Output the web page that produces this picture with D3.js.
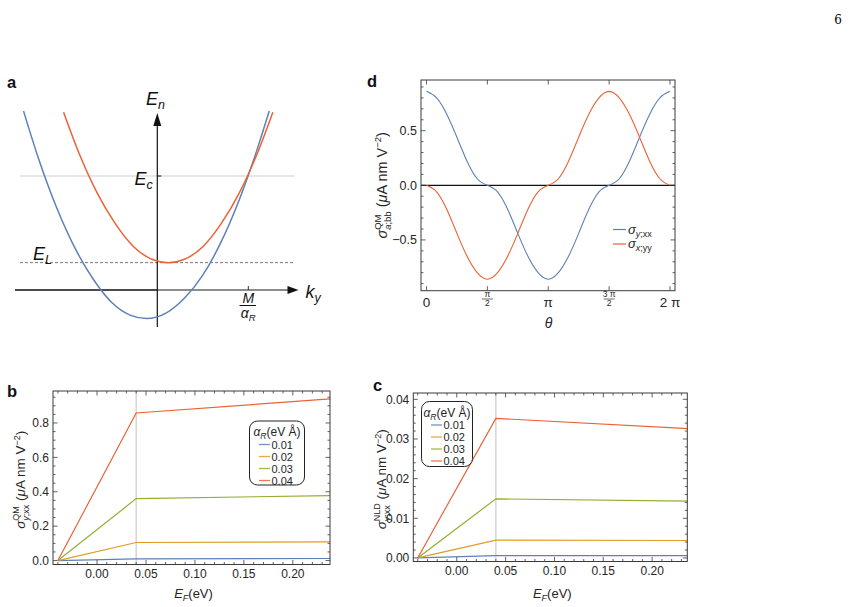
<!DOCTYPE html>
<html>
<head>
<meta charset="utf-8">
<script src="https://cdn.jsdelivr.net/npm/d3@7"></script>
<style>
  body { margin: 0; background: #fff; }
  svg { display: block; font-family: "Liberation Sans", Arial, sans-serif; }
</style>
</head>
<body>
<svg id="fig" width="857" height="607"></svg>
<script>
// ---------- data ----------
// panel a: the two bands (k in units of M/alpha_R, E in units of E_c)
const lowerK = [-1.47, -1.3, -1.1, -0.9, -0.7, -0.5, -0.3, -0.12, 0.1, 0.3, 0.5, 0.7, 0.9, 1.1, 1.23];
const lowerE = [1.57, 1.14, 0.71, 0.36, 0.09, -0.11, -0.22, -0.25, -0.20, -0.07, 0.13, 0.42, 0.79, 1.24, 1.57];
const upperK = [-1.03, -0.86, -0.66, -0.46, -0.26, -0.06, 0.12, 0.3, 0.5, 0.7, 0.9, 1.1, 1.27];
const upperE = [1.56, 1.20, 0.85, 0.58, 0.38, 0.27, 0.24, 0.27, 0.38, 0.58, 0.85, 1.20, 1.56];
const levelEc = 1, levelEL = 0.24, kCross = 1;

// panels b, c
const alphaR = ['0.01', '0.02', '0.03', '0.04'];
const seriesColors = ['#5e81b5', '#e19c24', '#8fb032', '#eb6235'];
const efPoints = [-0.04, 0.04, 0.238];
const sigmaQM = [[0, 0.010, 0.012], [0, 0.105, 0.108], [0, 0.360, 0.378], [0, 0.858, 0.940]];
const sigmaNLD = [[0, 0.0006, 0.0006], [0, 0.0045, 0.0044], [0, 0.0149, 0.0143], [0, 0.0352, 0.0326]];
const efCut = 0.04;
const efTicks = [0, 0.05, 0.1, 0.15, 0.2];
const qmTicks = [0, 0.2, 0.4, 0.6, 0.8];
const nldTicks = [0, 0.01, 0.02, 0.03, 0.04];

// panel d
const thetaDeg = [0, 15, 30, 45, 60, 75, 90, 105, 120, 135, 150, 165, 180,
                  195, 210, 225, 240, 255, 270, 285, 300, 315, 330, 345, 360];
const sigmaYxx = [0.86, 0.80, 0.65, 0.44, 0.22, 0.06, 0, -0.06, -0.22, -0.44, -0.65, -0.80, -0.86,
                  -0.80, -0.65, -0.44, -0.22, -0.06, 0, 0.06, 0.22, 0.44, 0.65, 0.80, 0.86];
const sigmaXyy = [0, -0.06, -0.22, -0.44, -0.65, -0.80, -0.86, -0.80, -0.65, -0.44, -0.22, -0.06, 0,
                  0.06, 0.22, 0.44, 0.65, 0.80, 0.86, 0.80, 0.65, 0.44, 0.22, 0.06, 0];
const thetaTicks = [0, 90, 180, 270, 360];
const thetaLabels = [['0'], ['π', '2'], ['π'], ['3 π', '2'], ['2 π']];
const angTicks = [-0.5, 0, 0.5];

const svg = d3.select('#fig');
const frameColor = '#3a3a3a', labelColor = '#262626';

// text with sub/superscripts; returns the text and its advance width
function rich(g, segs, size) {
  const t = g.append('text').attr('font-size', size).attr('fill', labelColor);
  let base = 0, adv = 0, pad = 0, markAdv = 0, supEnd = 0;
  segs.forEach(function(s) {
    const sp = t.append('tspan').text(s.t);
    if (s.sz) sp.attr('font-size', s.sz);
    if (s.it) sp.attr('font-style', 'italic');
    const off = s.up || 0;
    sp.attr('dy', base - off);
    base = off;
    let dx = pad; pad = 0;
    if (s.under) dx += markAdv - adv;
    if (s.mark) markAdv = adv + dx;
    if (dx) sp.attr('dx', dx);
    adv += dx + sp.node().getComputedTextLength();
    if (s.mark) supEnd = adv;
    if (s.close && supEnd > adv) pad = supEnd - adv;
  });
  return { t: t, w: adv + pad };
}

function richCentered(g, segs, size, cx, cy) {
  const r = rich(g, segs, size);
  r.t.attr('x', cx - r.w / 2).attr('y', cy);
  return r;
}

function letter(x, y, s) {
  svg.append('text').attr('x', x).attr('y', y).attr('font-size', 16.5)
    .attr('font-weight', 'bold').attr('fill', '#111').text(s);
}

// Mathematica style frame with ticks on all four sides
function frame(g, x, y, xMaj, xMin, yMaj, yMin) {
  const [l, r] = x.range(), [b, t] = y.range();
  const tk = g.append('g').attr('stroke', frameColor).attr('stroke-width', 0.8);
  function xt(v, len) {
    tk.append('line').attr('x1', x(v)).attr('x2', x(v)).attr('y1', b).attr('y2', b - len);
    tk.append('line').attr('x1', x(v)).attr('x2', x(v)).attr('y1', t).attr('y2', t + len);
  }
  function yt(v, len) {
    tk.append('line').attr('y1', y(v)).attr('y2', y(v)).attr('x1', l).attr('x2', l + len);
    tk.append('line').attr('y1', y(v)).attr('y2', y(v)).attr('x1', r).attr('x2', r - len);
  }
  xMaj.forEach(function(v) { xt(v, 4.5); });
  xMin.forEach(function(v) { xt(v, 2.5); });
  yMaj.forEach(function(v) { yt(v, 4.5); });
  yMin.forEach(function(v) { yt(v, 2.5); });
  g.append('rect').attr('x', l).attr('y', t).attr('width', r - l).attr('height', b - t)
    .attr('fill', 'none').attr('stroke', frameColor).attr('stroke-width', 1);
}

function minors(a, b, step, majors) {
  return d3.range(a, b + step / 2, step).filter(function(v) {
    return !majors.some(function(m) { return Math.abs(m - v) < step / 10; });
  });
}

svg.append('text').attr('x', 842).attr('y', 24).attr('text-anchor', 'end')
  .attr('font-family', '"DejaVu Serif", "Liberation Serif", serif').attr('font-size', 12)
  .text('6');

// ---------- panel a ----------
(function() {
  const g = svg.append('g');
  const kx = d3.scaleLinear().domain([0, 1]).range([157.3, 248.3]);
  const ey = d3.scaleLinear().domain([0, 1]).range([290, 176]);

  g.append('line').attr('x1', 20).attr('x2', 295).attr('y1', ey(levelEc)).attr('y2', ey(levelEc))
    .attr('stroke', '#cfcfcf').attr('stroke-width', 1.2);
  g.append('line').attr('x1', 20).attr('x2', 295).attr('y1', ey(levelEL)).attr('y2', ey(levelEL))
    .attr('stroke', '#777').attr('stroke-width', 1).attr('stroke-dasharray', '3,2');

  // axes
  g.append('line').attr('x1', kx(0)).attr('x2', 290).attr('y1', ey(0)).attr('y2', ey(0))
    .attr('stroke', '#666').attr('stroke-width', 1.3);
  g.append('line').attr('x1', 15).attr('x2', kx(0)).attr('y1', ey(0)).attr('y2', ey(0))
    .attr('stroke', '#111').attr('stroke-width', 1.4);
  g.append('path').attr('d', 'M298.5,' + ey(0) + 'l-11,-4l0,8z').attr('fill', '#111');
  g.append('line').attr('x1', kx(0)).attr('x2', kx(0)).attr('y1', 327).attr('y2', 124)
    .attr('stroke', '#111').attr('stroke-width', 1.2);
  g.append('path').attr('d', 'M' + kx(0) + ',113l-4,13l8,0z').attr('fill', '#111');
  g.append('line').attr('x1', kx(0)).attr('x2', kx(0) + 4).attr('y1', ey(levelEc)).attr('y2', ey(levelEc))
    .attr('stroke', '#111').attr('stroke-width', 1);
  g.append('line').attr('x1', kx(kCross)).attr('x2', kx(kCross)).attr('y1', ey(0) - 4).attr('y2', ey(0))
    .attr('stroke', '#333').attr('stroke-width', 1);

  const line = d3.line().x(function(d) { return kx(d[0]); }).y(function(d) { return ey(d[1]); })
    .curve(d3.curveMonotoneX);
  g.append('path').attr('d', line(d3.zip(lowerK, lowerE))).attr('fill', 'none')
    .attr('stroke', seriesColors[0]).attr('stroke-width', 1.5);
  g.append('path').attr('d', line(d3.zip(upperK, upperE))).attr('fill', 'none')
    .attr('stroke', seriesColors[3]).attr('stroke-width', 1.5);

  function lab(x, y, main, sub) {
    rich(g, [{ t: main, it: 1 }, { t: sub, it: 1, sz: 12.5, up: -4 }], 18).t
      .attr('x', x).attr('y', y).attr('fill', '#111');
  }
  lab(146, 104.5, 'E', 'n');
  lab(134.5, 185, 'E', 'c');
  lab(33, 260, 'E', 'L');
  lab(305.5, 297.5, 'k', 'y');

  const m = g.append('g');
  m.append('text').attr('x', kx(kCross)).attr('y', 302.5).attr('text-anchor', 'middle')
    .attr('font-size', 14).attr('font-style', 'italic').attr('fill', '#111').text('M');
  m.append('line').attr('x1', 239.5).attr('x2', 256).attr('y1', 305.5).attr('y2', 305.5)
    .attr('stroke', '#111').attr('stroke-width', 1);
  richCentered(m, [{ t: 'α', it: 1 }, { t: 'R', it: 1, sz: 9.5, up: -3 }], 14, kx(kCross), 317.5)
    .t.attr('fill', '#111');
})();
letter(7, 88, 'a');

// ---------- panels b and c ----------
function efPanel(x, y, series, yTicks, yMinor, fmt, clipId, ylab, yLabX, legend) {
  const g = svg.append('g');
  const [l, r] = x.range(), [b, t] = y.range();
  g.append('clipPath').attr('id', clipId).append('rect')
    .attr('x', l).attr('y', t).attr('width', r - l).attr('height', b - t);

  g.append('line').attr('x1', x(efCut)).attr('x2', x(efCut)).attr('y1', t).attr('y2', b)
    .attr('stroke', '#d2d2d2').attr('stroke-width', 1.4);

  const line = d3.line().x(function(d) { return x(d[0]); }).y(function(d) { return y(d[1]); });
  g.append('g').attr('clip-path', 'url(#' + clipId + ')')
    .selectAll('path').data(series).enter().append('path')
    .attr('d', function(d) { return line(d3.zip(efPoints, d)); })
    .attr('fill', 'none').attr('stroke-width', 1.2)
    .attr('stroke', function(d, i) { return seriesColors[i]; });

  frame(g, x, y, efTicks, minors(-0.04, 0.23, 0.01, efTicks), yTicks, yMinor);

  g.append('g').selectAll('text').data(efTicks).enter().append('text')
    .attr('x', function(d) { return x(d); }).attr('y', b + 13.5).attr('text-anchor', 'middle')
    .attr('font-size', 12).attr('fill', labelColor).text(d3.format('.2f'));
  g.append('g').selectAll('text').data(yTicks).enter().append('text')
    .attr('x', l - 4).attr('y', function(d) { return y(d) + 4.3; }).attr('text-anchor', 'end')
    .attr('font-size', 12).attr('fill', labelColor).text(fmt);

  richCentered(g, [{ t: 'E', it: 1 }, { t: 'F', it: 1, sz: 9, up: -3 }, { t: '(eV)' }],
    13, (l + r) / 2 + 2, 598);

  const yl = g.append('g').attr('transform', 'translate(' + yLabX + ',' + ((t + b) / 2 + 2) + ')rotate(-90)');
  richCentered(yl, [{ t: 'σ', it: 1 }, { t: ylab, sz: 9, up: 6, mark: 1 },
    { t: 'y', it: 1, sz: 9, up: -3.5, under: 1 }, { t: ';xx', sz: 9, up: -3.5, close: 1 },
    { t: ' (' }, { t: 'μ', it: 1 }, { t: 'A nm V' }, { t: '−2', sz: 9, up: 5.5 }, { t: ')' }],
    13.5, 0, 0);

  const lg = g.append('g');
  lg.append('rect').attr('x', legend.x).attr('y', legend.y).attr('width', legend.w).attr('height', legend.h)
    .attr('rx', 8).attr('fill', '#fff').attr('stroke', '#222').attr('stroke-width', 1);
  richCentered(lg, [{ t: 'α', it: 1 }, { t: 'R', it: 1, sz: 8.5, up: -3 }, { t: '(eV Å)' }],
    12, legend.x + legend.w / 2, legend.y + 15);
  alphaR.forEach(function(a, i) {
    const yy = legend.y + 23.5 + i * 12;
    lg.append('line').attr('x1', legend.x + 9.5).attr('x2', legend.x + 20.5).attr('y1', yy).attr('y2', yy)
      .attr('stroke', seriesColors[i]).attr('stroke-width', 1.3).attr('opacity', 0.85);
    lg.append('text').attr('x', legend.x + 22).attr('y', yy + 4).attr('font-size', 11)
      .attr('fill', labelColor).text(a);
  });
}

efPanel(d3.scaleLinear().domain([-0.045, 0.238]).range([53, 330]),
  d3.scaleLinear().domain([-0.023, 0.986]).range([564.5, 391]),
  sigmaQM, qmTicks, minors(0, 0.95, 0.05, qmTicks), d3.format('.1f'), 'clipB', 'QM', 25,
  { x: 249.5, y: 421, w: 55, h: 64 });
letter(7, 397, 'b');

efPanel(d3.scaleLinear().domain([-0.0445, 0.236]).range([413.3, 687.3]),
  d3.scaleLinear().domain([-0.0009, 0.0416]).range([561.5, 393]),
  sigmaNLD, nldTicks, minors(0, 0.04, 0.002, nldTicks), d3.format('.2f'), 'clipC', 'NLD', 386,
  { x: 421.5, y: 401.5, w: 51, h: 65 });
letter(373, 391, 'c');

// ---------- panel d ----------
(function() {
  const g = svg.append('g');
  const x = d3.scaleLinear().domain([-8.1, 367.4]).range([421, 675]);
  const y = d3.scaleLinear().domain([-0.965, 0.964]).range([290.7, 80]);
  const [l, r] = x.range(), [b, t] = y.range();

  g.append('line').attr('x1', l).attr('x2', r).attr('y1', y(0)).attr('y2', y(0))
    .attr('stroke', '#111').attr('stroke-width', 1.2);

  const line = d3.line().x(function(d) { return x(d[0]); }).y(function(d) { return y(d[1]); })
    .curve(d3.curveNatural);
  [sigmaYxx, sigmaXyy].forEach(function(s, i) {
    g.append('path').attr('d', line(d3.zip(thetaDeg, s))).attr('fill', 'none')
      .attr('stroke', seriesColors[i === 0 ? 0 : 3]).attr('stroke-width', 1.1);
  });

  frame(g, x, y, thetaTicks, [], angTicks, minors(-0.9, 0.9, 0.1, angTicks));

  g.append('g').selectAll('text').data(angTicks).enter().append('text')
    .attr('x', l - 4).attr('y', function(d) { return y(d) + 4.3; }).attr('text-anchor', 'end')
    .attr('font-size', 12.5).attr('fill', labelColor).text(d3.format('.1f'));

  thetaTicks.forEach(function(v, i) {
    const lb = thetaLabels[i], cx = x(v);
    if (lb.length === 1) {
      g.append('text').attr('x', cx).attr('y', 306.5).attr('text-anchor', 'middle')
        .attr('font-size', 13.5).attr('fill', labelColor).text(lb[0]);
    } else {
      g.append('text').attr('x', cx).attr('y', 297).attr('text-anchor', 'middle')
        .attr('font-size', 8.5).attr('fill', labelColor).text(lb[0]);
      g.append('line').attr('x1', cx - 5.5).attr('x2', cx + 5.5).attr('y1', 299).attr('y2', 299)
        .attr('stroke', labelColor).attr('stroke-width', 0.7);
      g.append('text').attr('x', cx).attr('y', 306).attr('text-anchor', 'middle')
        .attr('font-size', 8.5).attr('fill', labelColor).text(lb[1]);
    }
  });

  g.append('text').attr('x', (l + r) / 2 + 0.5).attr('y', 328).attr('text-anchor', 'middle')
    .attr('font-size', 14).attr('font-style', 'italic').attr('fill', labelColor).text('θ');

  const yl = g.append('g').attr('transform', 'translate(387,' + (t + b) / 2 + ')rotate(-90)');
  richCentered(yl, [{ t: 'σ', it: 1 }, { t: 'QM', sz: 9.5, up: 6, mark: 1 },
    { t: 'a', it: 1, sz: 9.5, up: -3.5, under: 1 }, { t: ';bb', sz: 9.5, up: -3.5, close: 1 },
    { t: ' (' }, { t: 'μ', it: 1 }, { t: 'A nm V' }, { t: '−2', sz: 9.5, up: 6 }, { t: ')' }],
    14.5, 0, 0);

  [['y', ';xx'], ['x', ';yy']].forEach(function(s, i) {
    const yy = 229.5 + i * 14.5;
    g.append('line').attr('x1', 613).attr('x2', 626).attr('y1', yy).attr('y2', yy)
      .attr('stroke', seriesColors[i === 0 ? 0 : 3]).attr('stroke-width', 1.2);
    rich(g, [{ t: 'σ', it: 1 }, { t: s[0], it: 1, sz: 9, up: -3 }, { t: s[1], sz: 9, up: -3 }], 13)
      .t.attr('x', 628).attr('y', yy + 4);
  });
})();
letter(367, 87, 'd');
</script>
</body>
</html>
